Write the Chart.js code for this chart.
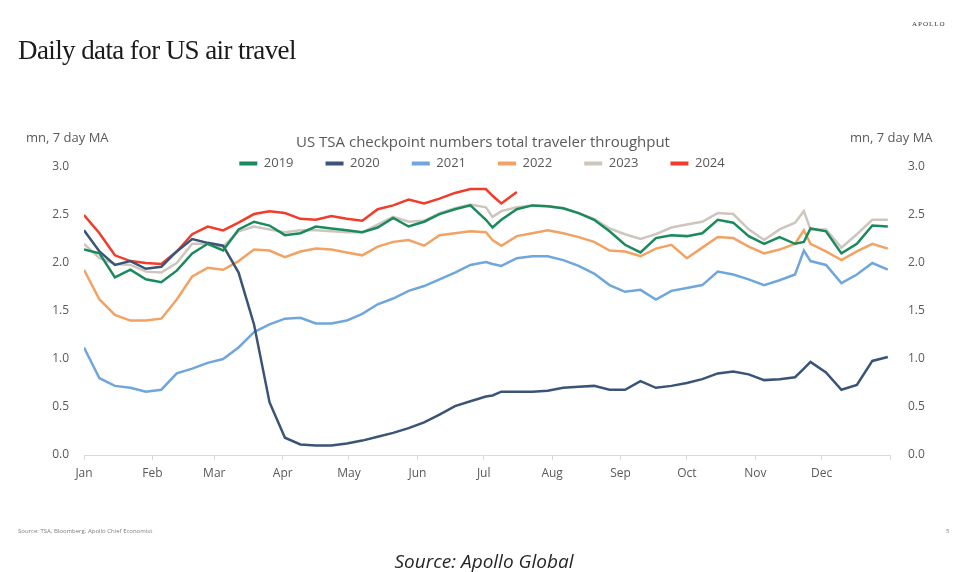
<!DOCTYPE html>
<html><head><meta charset="utf-8">
<script src="https://cdn.jsdelivr.net/npm/chart.js@4.4.1/dist/chart.umd.min.js"></script>
<style>
html,body{margin:0;padding:0;background:#fff;}
#wrap{position:relative;width:958px;height:572px;overflow:hidden;font-family:"Open Sans",sans-serif;}
#c{position:absolute;left:0;top:0;}
.t{position:absolute;white-space:nowrap;line-height:1;}
</style></head><body>
<div id="wrap">
<canvas id="c" width="958" height="572" style="width:958px;height:572px"></canvas>
<div class="t" style="left:18px;top:37px;font-family:'Liberation Serif',serif;font-size:27px;color:#1a1a1a;letter-spacing:-0.6px;">Daily data for US air travel</div>
<div class="t" style="left:912px;top:21px;font-family:'Liberation Serif',serif;font-size:7px;letter-spacing:1px;color:#333;">APOLLO</div>
<div class="t" style="left:0;width:966px;text-align:center;top:134px;font-size:15px;color:#595959;">US TSA checkpoint numbers total traveler throughput</div>
<div class="t" style="left:26px;top:131px;font-size:13px;color:#595959;">mn, 7 day MA</div>
<div class="t" style="left:850px;top:131px;font-size:13px;color:#595959;">mn, 7 day MA</div>
<div class="t" style="left:18px;top:528px;font-size:6px;color:#7f7f7f;">Source: TSA, Bloomberg, Apollo Chief Economist</div>
<div class="t" style="left:946px;top:528px;font-size:6px;color:#7f7f7f;">5</div>
<div class="t" style="left:0;width:968px;text-align:center;top:552px;font-size:19px;font-style:italic;color:#262626;">Source: Apollo Global</div>
</div>
<script>
const monthNames = ["Jan","Feb","Mar","Apr","May","Jun","Jul","Aug","Sep","Oct","Nov","Dec"];
const monthStarts = [0,31,59,90,120,151,181,212,243,273,304,334];
const yearLabels = ["2019","2020","2021","2022","2023","2024"];
const days = [0,7,14,21,28,35,42,49,56,63,70,77,84,91,98,105,112,119,126,133,140,147,154,161,168,175,182,185,189,196,203,210,217,224,231,238,245,252,259,266,273,280,287,294,301,308,315,322,326,329,336,343,350,357,364];

const s2019 = [2.14,2.10,1.85,1.93,1.83,1.80,1.92,2.10,2.20,2.13,2.35,2.43,2.39,2.29,2.31,2.38,2.36,2.34,2.32,2.37,2.47,2.38,2.43,2.51,2.56,2.60,2.45,2.37,2.45,2.56,2.60,2.59,2.57,2.52,2.45,2.33,2.19,2.11,2.26,2.29,2.28,2.31,2.45,2.42,2.28,2.20,2.27,2.20,2.22,2.36,2.33,2.10,2.20,2.39,2.38];
const s2020 = [2.34,2.12,1.98,2.02,1.94,1.96,2.12,2.25,2.21,2.18,1.90,1.36,0.55,0.18,0.11,0.10,0.10,0.12,0.15,0.19,0.23,0.28,0.34,0.42,0.51,0.56,0.61,0.62,0.66,0.66,0.66,0.67,0.70,0.71,0.72,0.68,0.68,0.77,0.70,0.72,0.75,0.79,0.85,0.87,0.84,0.78,0.79,0.81,0.90,0.97,0.86,0.68,0.73,0.98,1.02];
const s2021 = [1.12,0.80,0.72,0.70,0.66,0.68,0.85,0.90,0.96,1.00,1.12,1.28,1.36,1.42,1.43,1.37,1.37,1.40,1.47,1.57,1.63,1.71,1.76,1.83,1.90,1.98,2.01,1.99,1.97,2.05,2.07,2.07,2.03,1.97,1.89,1.77,1.70,1.72,1.62,1.71,1.74,1.77,1.91,1.88,1.83,1.77,1.82,1.88,2.13,2.02,1.98,1.79,1.88,2.00,1.93];
const s2022 = [1.93,1.62,1.46,1.40,1.40,1.42,1.62,1.86,1.95,1.93,2.02,2.14,2.13,2.06,2.12,2.15,2.14,2.11,2.08,2.17,2.22,2.24,2.18,2.29,2.31,2.33,2.32,2.24,2.18,2.28,2.31,2.34,2.31,2.27,2.22,2.13,2.12,2.07,2.15,2.19,2.05,2.16,2.27,2.26,2.17,2.10,2.14,2.20,2.34,2.20,2.12,2.03,2.12,2.20,2.15];
const s2023 = [2.20,2.05,1.99,1.98,1.91,1.90,2.00,2.20,2.20,2.17,2.33,2.38,2.35,2.32,2.34,2.34,2.33,2.32,2.32,2.40,2.48,2.43,2.44,2.52,2.57,2.61,2.58,2.48,2.54,2.58,2.60,2.59,2.57,2.52,2.46,2.36,2.30,2.25,2.30,2.37,2.40,2.43,2.52,2.51,2.35,2.24,2.35,2.42,2.54,2.35,2.35,2.16,2.30,2.45,2.45];
const s2024 = [2.50,2.31,2.08,2.02,2.00,1.99,2.12,2.30,2.38,2.34,2.42,2.51,2.54,2.52,2.46,2.45,2.49,2.46,2.44,2.56,2.60,2.66,2.62,2.67,2.73,2.77,2.77,2.70,2.62,2.74];

const seriesValues = [s2019,s2020,s2021,s2022,s2023,s2024];
const colors = ["#1a8a5c","#3a5478","#6fa6dc","#f2a263","#cdc6bf","#f23c2b"];

const datasets = yearLabels.map((lab,k)=>({
  label: lab,
  data: seriesValues[k].map((v,i)=>({x: days[i], y: v})),
  borderColor: colors[k],
  backgroundColor: colors[k],
  borderWidth: 2.5,
  pointRadius: 0,
  tension: 0,
  fill: false,
  yAxisID: 'y'
}));

const tickOpts = {color:"#595959", font:{family:"Open Sans", size:12}};

new Chart(document.getElementById('c'), {
  type: 'line',
  data: { datasets },
  options: {
    responsive: false,
    animation: false,
    events: [],
    layout: { padding: { top: 125, left: 26, right: 20, bottom: 87 } },
    plugins: {
      tooltip: {enabled:false},
      title: {display:false},
      legend: {
        display: true,
        position: 'top',
        maxHeight: 42,
        labels: {
          color: "#595959",
          font: {family:"Open Sans", size:13},
          usePointStyle: true,
          pointStyleWidth: 18,
          padding: 32,
          generateLabels: (chart) => chart.data.datasets.map((ds,i)=>({
            text: ds.label, fillStyle: ds.borderColor, strokeStyle: ds.borderColor,
            lineWidth: 4, pointStyle: 'line', hidden: false, datasetIndex: i, fontColor: "#595959"
          }))
        }
      }
    },
    scales: {
      x: {
        type: 'linear', min: 0, max: 365,
        afterBuildTicks: (s) => { s.ticks = monthStarts.concat([365]).map(v=>({value:v})); },
        afterFit: (s) => { s.height = 30; },
        grid: { drawOnChartArea: false, drawTicks: true, tickLength: 5, color: "#d9d9d9" },
        border: { display: true, color: "#d9d9d9" },
        ticks: Object.assign({}, tickOpts, { padding: 6, maxRotation: 0, autoSkip: false,
          callback: (v) => { const i = monthStarts.indexOf(v); return i >= 0 ? monthNames[i] : ""; } })
      },
      y: {
        position: 'left', min: 0, max: 3,
        afterFit: (s) => { s.width = 58; },
        grid: { display: false, drawTicks: false },
        border: { display: false },
        ticks: Object.assign({}, tickOpts, { stepSize: 0.5, padding: 15, callback: (v) => v.toFixed(1) })
      },
      y2: {
        position: 'right', min: 0, max: 3, display: true,
        afterFit: (s) => { s.width = 48; },
        grid: { display: false, drawTicks: false },
        border: { display: false },
        ticks: Object.assign({}, tickOpts, { stepSize: 0.5, padding: 18, callback: (v) => v.toFixed(1) })
      }
    }
  }
});
</script>
</body></html>
